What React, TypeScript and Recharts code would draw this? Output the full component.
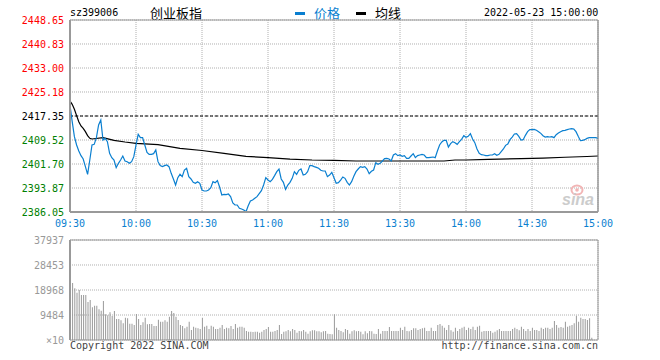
import React from 'react';
import {
  ComposedChart,
  Line,
  Bar,
  XAxis,
  YAxis,
  CartesianGrid,
  ReferenceLine,
  ReferenceArea,
} from 'recharts';

const MONO = '"DejaVu Sans Mono", "Liberation Mono", monospace';
const CJK = '"Noto Sans CJK SC", sans-serif';

// ---- axis ticks / labels ----
const timeTicks = [0, 30, 60, 90, 120, 150, 180, 210, 240];
const timeLabels = ['09:30', '10:00', '10:30', '11:00', '11:30', '13:30', '14:00', '14:30', '15:00'];
const priceTicks = [2386.05, 2393.87, 2401.7, 2409.52, 2417.35, 2425.18, 2433.0, 2440.83, 2448.65];
const pctLabels = ['-1.29%', '-0.97%', '-0.65%', '-0.32%', '0.00%', '+0.32%', '+0.65%', '+0.97%', '+1.29%'];
const prevClose = 2417.35;
const volTicks = [0, 9484, 18968, 28453, 37937];
const volLabels = ['\u00d710', '9484', '18968', '28453', '37937'];

// ---- price per minute (0 = 09:30 ... 120 = 11:30/13:00 ... 240 = 15:00) ----
const prices = [
  2420.94, 2415.5, 2410.61, 2407.89, 2405.94, 2404.42, 2403.33, 2400.83, 2398.33, 2403.0,
  2407.89, 2408.11, 2410.29, 2414.42, 2416.05, 2409.52, 2410.07, 2408.98, 2405.18, 2403.77,
  2403.0, 2400.5, 2401.92, 2403.0, 2404.31, 2402.68, 2402.46, 2401.92, 2402.46, 2404.09,
  2407.89, 2411.37, 2410.29, 2410.29, 2407.89, 2405.5, 2404.85, 2404.85, 2405.07, 2406.26,
  2402.46, 2401.16, 2400.83, 2401.16, 2401.37, 2400.83, 2398.66, 2396.81, 2394.85, 2397.24,
  2398.33, 2397.57, 2399.74, 2400.29, 2397.57, 2396.81, 2395.72, 2395.4, 2395.94, 2395.4,
  2393.22, 2392.9, 2392.9, 2393.22, 2393.98, 2395.94, 2395.61, 2396.27, 2394.2, 2391.59,
  2391.81, 2391.7, 2391.92, 2391.05, 2388.98, 2388.33, 2388.33, 2387.24, 2387.03, 2386.7,
  2386.16, 2388.11, 2389.64, 2389.96, 2390.51, 2391.05, 2392.03, 2393.01, 2394.85, 2397.24,
  2396.48, 2395.94, 2396.7, 2397.9, 2399.2, 2400.07, 2396.81, 2395.72, 2393.44, 2394.85,
  2395.72, 2397.03, 2399.2, 2398.33, 2399.64, 2400.07, 2398.11, 2398.33, 2399.2, 2401.16,
  2401.16, 2400.83, 2400.61, 2400.29, 2399.64, 2399.42, 2399.42, 2397.57, 2398.11, 2398.98,
  2397.24,
  2395.4, 2395.61, 2396.48, 2397.46, 2397.03, 2395.72, 2394.85, 2395.94, 2397.68,
  2399.2, 2400.07, 2400.83, 2400.61, 2400.83, 2400.07, 2398.55, 2399.31, 2399.74, 2402.13,
  2401.59, 2401.92, 2402.68, 2403.44, 2403.55, 2403.33, 2402.68, 2404.63, 2405.07, 2404.42,
  2404.63, 2404.2, 2404.42, 2403.55, 2403.55, 2404.31, 2405.07, 2403.77, 2404.42, 2404.63,
  2404.85, 2404.63, 2403.77, 2403.77, 2403.87, 2403.98, 2403.77, 2405.94, 2407.89, 2408.87,
  2409.42, 2409.42, 2407.24, 2408.33, 2408.98, 2408.66, 2408.11, 2408.98, 2409.74, 2410.94,
  2410.39, 2410.72, 2411.59, 2409.85, 2408.66, 2406.59, 2405.18, 2404.74, 2404.63, 2404.42,
  2404.42, 2404.63, 2404.63, 2405.07, 2404.53, 2404.85, 2405.72, 2406.59, 2407.79, 2408.22,
  2409.63, 2410.5, 2411.48, 2411.59, 2410.72, 2409.52, 2409.63, 2411.05, 2412.24, 2412.89,
  2412.89, 2413.0, 2412.68, 2412.24, 2411.7, 2410.94, 2410.5, 2410.61, 2410.5, 2410.61,
  2410.29, 2411.26, 2411.81, 2412.24, 2412.57, 2412.68, 2412.89, 2413.11, 2413.22, 2413.11,
  2412.24, 2410.72, 2409.31, 2409.42, 2409.63, 2410.07, 2410.29, 2410.29, 2410.29, 2410.29,
  2410.07,
];

// ---- average line, read at selected minutes ----
const avgMinutes = [0, 1, 2, 3, 4, 5, 6, 7, 8, 9, 10, 15, 20, 25, 30, 40, 50, 60, 70, 80, 90, 100, 110, 120, 130, 150, 170, 175, 180, 190, 205, 215, 225, 235, 240];
const avgValues = [
  2422.24, 2421.15, 2419.52, 2417.46, 2415.5, 2414.09, 2413.33, 2412.24, 2410.94, 2410.07,
  2409.85, 2410.29, 2409.42, 2408.87, 2408.44, 2408.0, 2406.81, 2406.1, 2405.18, 2404.2,
  2403.8, 2403.3, 2403.0, 2402.9, 2402.68, 2402.68, 2402.68, 2403.0, 2403.0, 2403.22,
  2403.44, 2403.6, 2403.9, 2404.15, 2404.31,
];

// ---- volume per minute ----
const volumes = [
  21624, 21624, 19601, 17957, 18969, 17072, 17072, 17072, 14416, 15175,
  12393, 13025, 13025, 11634, 11128, 14795, 9737, 9358, 10496, 9105,
  11002, 7967, 7967, 7461, 6323, 8473, 8220, 6196, 6196, 5691,
  9864, 7967, 5691, 6702, 8473, 5943, 6070, 6070, 5311, 5311,
  7714, 6955, 6955, 7461, 6955, 8852, 11002, 10243, 8852, 7587,
  5691, 5311, 4426, 5058, 6955, 3794, 5058, 4679, 4426, 4173,
  8473, 5058, 5437, 4173, 5437, 5058, 4173, 4173, 4679, 5691,
  4173, 4679, 4426, 5311, 4173, 6070, 4679, 5058, 5058, 4679,
  3414, 3161, 3161, 3035, 3161, 3161, 2782, 3161, 3794, 4173,
  4932, 3161, 3161, 3414, 3794, 5691, 2276, 3161, 3288, 3794,
  3288, 4173, 3794, 2782, 3414, 3288, 3794, 3161, 2403, 3288,
  3667, 3667, 3288, 3288, 2909, 3288, 3414, 2403, 2276, 2150,
  9737,
  4679, 3794, 3414, 2909, 4173, 3794, 2403, 3288, 3667,
  3288, 3414, 3161, 2150, 3288, 2529, 3414, 3288, 2403, 2276,
  4173, 2403, 3414, 3414, 3414, 4932, 3414, 3414, 3414, 3414,
  4679, 3794, 5058, 3414, 3288, 3794, 4426, 4426, 3794, 4173,
  4426, 4679, 3414, 3414, 4679, 3414, 3414, 5691, 6070, 5437,
  4679, 3794, 5691, 3667, 3161, 4679, 3414, 4173, 4679, 5058,
  3794, 4679, 4173, 5058, 3794, 5058, 5437, 3161, 3414, 3414,
  3414, 3414, 2782, 3161, 3667, 4173, 3414, 3414, 3414, 3414,
  3414, 4173, 4679, 4173, 3667, 5058, 4173, 3414, 4173, 3414,
  4679, 3794, 3794, 3414, 4679, 4173, 4679, 4679, 4173, 4679,
  7208, 5691, 4679, 4932, 4679, 6955, 5058, 5437, 5691, 6323,
  9231, 6955, 8473, 7967, 7967, 7587, 8220, 885, 0, 0,
  0,
];

const priceData = prices.map((p, i) => {
  const k = avgMinutes.indexOf(i);
  return { t: i, price: p, avg: k >= 0 ? avgValues[k] : null };
});
const volData = volumes.map((v, i) => ({ t: i, vol: v }));

const priceColor = (v: number) =>
  Math.abs(v - prevClose) < 0.001 ? '#000000' : v > prevClose ? '#ff0000' : '#008000';

const LeftPriceTick = (props: any) => {
  const { x, y, payload } = props;
  const v = payload.value as number;
  return (
    <text x={x} y={y} dy="0.355em" textAnchor="end" fill={priceColor(v)} fontSize={10} fontFamily={MONO}>
      {v.toFixed(2)}
    </text>
  );
};

const RightPctTick = (props: any) => {
  const { x, y, payload } = props;
  const v = payload.value as number;
  const idx = priceTicks.findIndex((p) => Math.abs(p - v) < 0.001);
  return (
    <text x={x} y={y} dy="0.355em" textAnchor="start" fill={priceColor(v)} fontSize={10} fontFamily={MONO}>
      {pctLabels[idx]}
    </text>
  );
};

const VolTick = (props: any) => {
  const { x, y, payload } = props;
  const idx = volTicks.indexOf(payload.value);
  return (
    <text x={x} y={y} dy="0.355em" textAnchor="end" fill="#999999" fontSize={10} fontFamily={MONO}>
      {volLabels[idx]}
    </text>
  );
};

const abs = (left: number, top: number, extra: React.CSSProperties = {}): React.CSSProperties => ({
  position: 'absolute',
  left,
  top,
  whiteSpace: 'nowrap',
  lineHeight: 1,
  ...extra,
});

export default function App() {
  return (
    <div style={{ position: 'absolute', left: 0, top: 0, width: 660, height: 360, background: '#fff', overflow: 'hidden' }}>
      {/* header */}
      <div style={abs(70, 8, { fontFamily: MONO, fontSize: 10, color: '#000' })}>sz399006</div>
      <div style={abs(150, 6, { fontFamily: CJK, fontSize: 13, color: '#000' })}>创业板指</div>
      <div style={abs(295, 12, { width: 10, height: 3, background: '#0a7fd0' })} />
      <div style={abs(314, 6, { fontFamily: CJK, fontSize: 13, color: '#0a7fd0' })}>价格</div>
      <div style={abs(356, 12, { width: 10, height: 3, background: '#000' })} />
      <div style={abs(375, 6, { fontFamily: CJK, fontSize: 13, color: '#000' })}>均线</div>
      <div style={abs(484, 8, { fontFamily: MONO, fontSize: 10, color: '#000', width: 114, textAlign: 'right' })}>
        2022-05-23 15:00:00
      </div>

      {/* price chart */}
      <div style={{ position: 'absolute', left: 0, top: 0 }}>
        <ComposedChart width={660} height={232} data={priceData} margin={{ top: 20, right: 0, bottom: 0, left: 0 }}>
          <CartesianGrid yAxisId="left" stroke="#b0b0b0" strokeDasharray="1 1" />
          <XAxis
            dataKey="t"
            type="number"
            domain={[0, 240]}
            ticks={timeTicks}
            interval={0}
            height={20}
            tickLine={false}
            axisLine={{ stroke: '#999999', strokeWidth: 2 }}
            tickFormatter={(v: number) => timeLabels[timeTicks.indexOf(v)]}
            tick={{ fill: '#0a7fd0', fontSize: 10, fontFamily: MONO }}
          />
          <YAxis
            yAxisId="left"
            width={70}
            domain={[priceTicks[0], priceTicks[priceTicks.length - 1]]}
            ticks={priceTicks}
            interval={0}
            tickLine={false}
            tickSize={0}
            tickMargin={6}
            axisLine={{ stroke: '#999999', strokeWidth: 2 }}
            tick={<LeftPriceTick />}
          />
          <YAxis
            yAxisId="right"
            orientation="right"
            width={62}
            domain={[priceTicks[0], priceTicks[priceTicks.length - 1]]}
            ticks={priceTicks}
            interval={0}
            tickLine={false}
            tickSize={0}
            tickMargin={5}
            axisLine={{ stroke: '#999999', strokeWidth: 1 }}
            tick={<RightPctTick />}
          />
          <ReferenceArea
            yAxisId="left"
            x1={0}
            x2={240}
            y1={priceTicks[0]}
            y2={priceTicks[priceTicks.length - 1]}
            fill="none"
            stroke="#999999"
            strokeWidth={1}
          />
          <ReferenceLine yAxisId="left" y={prevClose} stroke="#000" strokeDasharray="3 2" />
          <Line
            yAxisId="left"
            type="linear"
            dataKey="avg"
            stroke="#000000"
            strokeWidth={1.2}
            dot={false}
            connectNulls
            isAnimationActive={false}
          />
          <Line
            yAxisId="left"
            type="linear"
            dataKey="price"
            stroke="#0a7fd0"
            strokeWidth={1.2}
            dot={false}
            isAnimationActive={false}
          />
        </ComposedChart>
      </div>

      {/* sina watermark */}
      <svg style={abs(570, 184)} width={16} height={12}>
        <ellipse cx={7} cy={6} rx={5.5} ry={4.5} fill="none" stroke="#f2b5b5" strokeWidth={2} />
        <circle cx={7} cy={6} r={1.8} fill="#f2b5b5" />
      </svg>
      <div style={abs(562, 192, { fontFamily: '"Liberation Sans", sans-serif', fontSize: 16, fontWeight: 'bold', fontStyle: 'italic', color: '#cccccc' })}>
        sina
      </div>

      {/* volume chart */}
      <div style={{ position: 'absolute', left: 0, top: 230 }}>
        <ComposedChart width={660} height={122} data={volData} margin={{ top: 10, right: 62, bottom: 12, left: 0 }}>
          <CartesianGrid stroke="#b0b0b0" strokeDasharray="1 1" />
          <XAxis
            dataKey="t"
            type="number"
            domain={[0, 240]}
            ticks={timeTicks}
            interval={0}
            height={0}
            tick={false}
            tickLine={false}
            axisLine={{ stroke: '#999999', strokeWidth: 2 }}
          />
          <YAxis
            width={70}
            domain={[0, 37937]}
            ticks={volTicks}
            interval={0}
            tickLine={false}
            tickSize={0}
            tickMargin={6}
            axisLine={{ stroke: '#999999', strokeWidth: 2 }}
            tick={<VolTick />}
          />
          <ReferenceArea x1={0} x2={240} y1={0} y2={37937} fill="none" stroke="#999999" strokeWidth={1} />
          <Bar dataKey="vol" fill="#999999" barSize={1} isAnimationActive={false} />
        </ComposedChart>
      </div>

      {/* footer */}
      <div style={abs(70, 341, { fontFamily: MONO, fontSize: 10, color: '#444' })}>Copyright 2022 SINA.COM</div>
      <div style={abs(440, 341, { fontFamily: MONO, fontSize: 10, color: '#444', width: 158, textAlign: 'right' })}>
        http://finance.sina.com.cn
      </div>
    </div>
  );
}
